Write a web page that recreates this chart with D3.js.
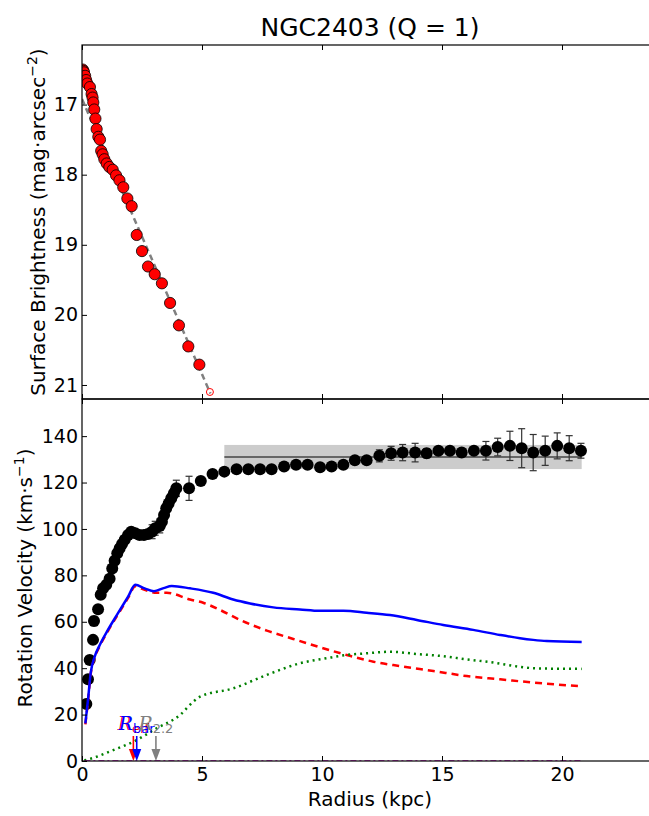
<!DOCTYPE html>
<meta charset="utf-8">
<script src="https://d3js.org/d3.v7.min.js"></script>
<style>
  body { margin: 0; background: #fff; }
  text { font-family: "DejaVu Sans", sans-serif; }
</style>
<div id="chart"></div>
<script>

// surface brightness profile
const sbRadius = [0.03, 0.06, 0.08, 0.13, 0.17, 0.22, 0.33, 0.40, 0.44, 0.47, 0.51, 0.56, 0.61, 0.68, 0.75, 0.80, 0.86, 0.93, 1.03, 1.14, 1.28, 1.42, 1.56, 1.72, 1.89, 2.07, 2.28, 2.50, 2.75, 3.03, 3.33, 3.67, 4.04, 4.43, 4.89];
const sbMag = [16.50, 16.52, 16.54, 16.59, 16.65, 16.70, 16.75, 16.85, 16.90, 16.97, 17.07, 17.20, 17.35, 17.46, 17.50, 17.66, 17.71, 17.78, 17.84, 17.89, 17.93, 18.01, 18.08, 18.18, 18.34, 18.45, 18.86, 19.09, 19.31, 19.42, 19.55, 19.83, 20.15, 20.45, 20.71];
const sbExcludedR = [5.33];
const sbExcludedMag = [21.10];
const sbFitR = [0, 5.35];
const sbFitMag = [16.92, 21.12];

// rotation curve
const vRadius = [0.18, 0.25, 0.32, 0.46, 0.50, 0.67, 0.78, 0.88, 1.01, 1.15, 1.26, 1.36, 1.47, 1.57, 1.67, 1.78, 1.92, 2.05, 2.22, 2.40, 2.58, 2.75, 2.92, 3.05, 3.24, 3.33, 3.42, 3.51, 3.61, 3.72, 3.83, 3.93, 4.46, 4.95, 5.44, 5.93, 6.44, 6.93, 7.42, 7.90, 8.42, 8.92, 9.40, 9.92, 10.40, 10.89, 11.37, 11.86, 12.39, 12.88, 13.36, 13.88, 14.36, 14.85, 15.33, 15.82, 16.33, 16.83, 17.32, 17.83, 18.32, 18.80, 19.30, 19.80, 20.30, 20.79];
const vObs = [24.6, 35.2, 43.5, 52.2, 60.3, 65.4, 71.6, 74.4, 75.9, 78.5, 83.0, 86.3, 89.5, 91.7, 93.5, 95.3, 97.4, 98.8, 98.1, 97.4, 97.4, 97.8, 98.8, 100.3, 101.3, 103.1, 106.0, 108.9, 111.0, 113.2, 115.4, 117.5, 117.5, 120.7, 123.7, 124.7, 125.7, 125.7, 125.7, 125.7, 126.9, 127.7, 127.7, 126.6, 126.9, 127.7, 129.6, 129.6, 131.5, 132.6, 132.9, 132.9, 132.6, 133.7, 133.7, 132.9, 133.7, 133.7, 135.3, 135.8, 134.8, 132.9, 133.7, 135.8, 134.8, 133.7];
const vErr = [1, 1, 1, 1, 2, 1, 1, 1, 1, 1, 1, 1, 1, 1, 1, 1, 1, 1, 1, 1, 1, 1, 3, 3, 3, 2, 2, 2, 2, 2, 2, 3.5, 5.2, 1, 1, 1, 1, 1, 1, 1, 1, 1, 1, 1.5, 1, 1, 1, 1, 2.6, 3, 3.5, 4, 2, 1, 1, 1, 1, 4, 3.8, 6.3, 8.4, 7.8, 6.3, 5.6, 5.4, 3.2];

const vFlat = 131;
const vFlatErr = 5.2;
const flatRange = [5.93, 20.82];

// model components
const totR = [0.14, 0.25, 0.36, 0.53, 0.74, 1.08, 1.5, 1.92, 2.22, 2.61, 3.0, 3.4, 3.74, 4.5, 5.47, 6.3, 7.0, 7.97, 9.08, 9.92, 10.89, 11.86, 12.83, 13.95, 15.05, 16.3, 17.42, 18.25, 18.8, 19.36, 20.82];
const vTotal = [16.2, 26.3, 37.8, 45, 50, 56.5, 63.7, 70.8, 75.9, 74.4, 73.2, 74.5, 75.4, 74.4, 72.5, 69.6, 67.9, 66.2, 65.3, 64.7, 64.7, 63.9, 62.9, 60.8, 58.6, 56.5, 54.3, 52.9, 52.2, 51.7, 51.3];
const diskR = [0.14, 0.25, 0.36, 0.53, 0.74, 1.08, 1.5, 1.92, 2.22, 2.35, 3.11, 3.53, 4.5, 5.05, 5.75, 6.58, 7.7, 8.8, 9.92, 11.03, 12.14, 13.25, 14.64, 16.03, 17.42, 18.8, 20.82];
const vDisk = [15.8, 25.8, 37.3, 44.5, 49.5, 56, 63.2, 70.3, 75.3, 74.8, 72.5, 72.5, 69.6, 68.2, 65.1, 60.8, 56.2, 52.6, 49, 45.7, 42.8, 40.9, 38.8, 36.6, 35.2, 33.8, 32.2];
const gasR = [0.1, 0.26, 1.3, 2.14, 3.11, 4.08, 4.64, 4.92, 6.3, 7.7, 9.08, 10.2, 11.03, 11.86, 12.83, 13.95, 14.92, 16.03, 17.14, 18.25, 18.95, 20.82];
const vGas = [0.3, 0.7, 4.7, 8.3, 14.1, 19.8, 25.6, 27.7, 31.3, 37.1, 42.1, 44.3, 45.7, 46.4, 47.1, 46.1, 45.3, 43.8, 42.4, 40.6, 39.9, 39.7];
const bulgeR = [0.1, 20.82];
const vBulge = [0, 0];

// characteristic radii
const markR = [2.14, 2.28, 3.08];
const markSub = ["eff", "bar", "2.2"];
const markColor = ["#ff0000", "#0000ff", "#808080"];

const xTicks = [0, 5, 10, 15, 20];
const sbTicks = [17, 18, 19, 20, 21];
const vTicks = [0, 20, 40, 60, 80, 100, 120, 140];

const W = 649, H = 816;
const left = 82, right = 658;
const topA = 45, midA = 399, botA = 761;

const svg = d3.select("#chart").append("svg")
  .attr("width", W).attr("height", H);

const x = d3.scaleLinear().domain([0, 24]).range([left, right]);
const ySB = d3.scaleLinear().domain([16.15, 21.2]).range([topA, midA]);
const yV = d3.scaleLinear().domain([0, 156]).range([botA, midA]);

// clip paths
const defs = svg.append("defs");
defs.append("clipPath").attr("id", "clipTop").append("rect")
  .attr("x", left).attr("y", topA).attr("width", right - left).attr("height", midA - topA);
defs.append("clipPath").attr("id", "clipBot").append("rect")
  .attr("x", left).attr("y", midA).attr("width", right - left).attr("height", botA - midA);

// title
svg.append("text")
  .attr("x", (left + right) / 2).attr("y", 36)
  .attr("text-anchor", "middle")
  .style("font-size", "25px")
  .text("NGC2403 (Q = 1)");

// ---------- top panel ----------
const gTop = svg.append("g").attr("clip-path", "url(#clipTop)");

gTop.append("path")
  .datum(sbFitR.map((r, i) => [r, sbFitMag[i]]))
  .attr("d", d3.line().x(d => x(d[0])).y(d => ySB(d[1])))
  .attr("fill", "none")
  .attr("stroke", "#808080")
  .attr("stroke-width", 2.5)
  .attr("stroke-dasharray", "6,4");

gTop.selectAll(".sb")
  .data(sbRadius.map((r, i) => [r, sbMag[i]]))
  .join("circle")
    .attr("cx", d => x(d[0]))
    .attr("cy", d => ySB(d[1]))
    .attr("r", 5.6)
    .attr("fill", "#ff0000")
    .attr("stroke", "#000")
    .attr("stroke-width", 0.8);

gTop.selectAll(".sbx")
  .data(sbExcludedR.map((r, i) => [r, sbExcludedMag[i]]))
  .join("circle")
    .attr("cx", d => x(d[0]))
    .attr("cy", d => ySB(d[1]))
    .attr("r", 3.5)
    .attr("fill", "none")
    .attr("stroke", "#ff0000")
    .attr("stroke-width", 1);

// ---------- bottom panel ----------
const gBot = svg.append("g").attr("clip-path", "url(#clipBot)");

gBot.append("rect")
  .attr("x", x(flatRange[0])).attr("y", yV(vFlat + vFlatErr))
  .attr("width", x(flatRange[1]) - x(flatRange[0]))
  .attr("height", yV(vFlat - vFlatErr) - yV(vFlat + vFlatErr))
  .attr("fill", "#cccccc");

gBot.append("line")
  .attr("x1", x(flatRange[0])).attr("x2", x(flatRange[1]))
  .attr("y1", yV(vFlat)).attr("y2", yV(vFlat))
  .attr("stroke", "#000").attr("stroke-width", 1.2);

const obs = vRadius.map((r, i) => ({r: r, v: vObs[i], e: vErr[i]}));

const eb = gBot.append("g").attr("stroke", "#333").attr("stroke-width", 1.2);
eb.selectAll(".bar").data(obs).join("line")
  .attr("x1", d => x(d.r)).attr("x2", d => x(d.r))
  .attr("y1", d => yV(d.v - d.e)).attr("y2", d => yV(d.v + d.e));
eb.selectAll(".capHi").data(obs).join("line")
  .attr("x1", d => x(d.r) - 3.5).attr("x2", d => x(d.r) + 3.5)
  .attr("y1", d => yV(d.v + d.e)).attr("y2", d => yV(d.v + d.e));
eb.selectAll(".capLo").data(obs).join("line")
  .attr("x1", d => x(d.r) - 3.5).attr("x2", d => x(d.r) + 3.5)
  .attr("y1", d => yV(d.v - d.e)).attr("y2", d => yV(d.v - d.e));

gBot.selectAll(".vobs").data(obs).join("circle")
  .attr("cx", d => x(d.r)).attr("cy", d => yV(d.v))
  .attr("r", 6)
  .attr("fill", "#000");

const vline = d3.line().x(d => x(d[0])).y(d => yV(d[1])).curve(d3.curveMonotoneX);

function curve(rs, vs, color, dash, width) {
  gBot.append("path")
    .datum(rs.map((r, i) => [r, vs[i]]))
    .attr("d", vline)
    .attr("fill", "none")
    .attr("stroke", color)
    .attr("stroke-width", width)
    .attr("stroke-dasharray", dash);
}
curve(diskR, vDisk, "#ff0000", "7,5", 2.5);
curve(gasR, vGas, "#008000", "2,4", 2.5);
curve(totR, vTotal, "#0000ff", null, 2.5);
curve(bulgeR, vBulge, "#bf00bf", "6,3,2,3", 1.5);

// arrows for characteristic radii
markR.forEach((r, i) => {
  const cx = x(r);
  svg.append("line")
    .attr("x1", cx).attr("x2", cx)
    .attr("y1", botA - 25).attr("y2", botA - 11)
    .attr("stroke", markColor[i]).attr("stroke-width", 1.6);
  svg.append("path")
    .attr("d", `M${cx - 4.5},${botA - 12}L${cx + 4.5},${botA - 12}L${cx},${botA}Z`)
    .attr("fill", markColor[i]);
  const t = svg.append("text")
    .attr("x", cx).attr("y", botA - 31)
    .attr("text-anchor", "middle")
    .attr("fill", markColor[i]);
  t.append("tspan")
    .style("font-family", "'DejaVu Serif', serif")
    .style("font-style", "italic")
    .style("font-size", "19px")
    .text("R");
  t.append("tspan")
    .attr("dy", 3)
    .style("font-size", "13px")
    .text(markSub[i]);
});

// ---------- axes ----------
function frame(y0, y1) {
  svg.append("rect")
    .attr("x", left).attr("y", y0)
    .attr("width", right - left).attr("height", y1 - y0)
    .attr("fill", "none").attr("stroke", "#000").attr("stroke-width", 1.2);
}
frame(topA, midA);
frame(midA, botA);

function styleAxis(g) {
  g.select(".domain").remove();
  g.selectAll(".tick line").attr("stroke", "#000");
  g.selectAll(".tick text").style("font-size", "19px").attr("fill", "#000");
}

// top panel axes
svg.append("g").attr("transform", `translate(${left},0)`)
  .call(d3.axisLeft(ySB).tickValues(sbTicks).tickSize(-5).tickPadding(4).tickFormat(d3.format("d")))
  .call(styleAxis);
svg.append("g").attr("transform", `translate(${right},0)`)
  .call(d3.axisRight(ySB).tickValues(sbTicks).tickSize(-5).tickFormat(""))
  .call(styleAxis);
svg.append("g").attr("transform", `translate(0,${topA})`)
  .call(d3.axisTop(x).tickValues(xTicks).tickSize(-5).tickFormat(""))
  .call(styleAxis);
svg.append("g").attr("transform", `translate(0,${midA})`)
  .call(d3.axisBottom(x).tickValues(xTicks).tickSize(-5).tickFormat(""))
  .call(styleAxis);

// bottom panel axes
svg.append("g").attr("transform", `translate(${left},0)`)
  .call(d3.axisLeft(yV).tickValues(vTicks).tickSize(-5).tickPadding(4))
  .call(styleAxis);
svg.append("g").attr("transform", `translate(${right},0)`)
  .call(d3.axisRight(yV).tickValues(vTicks).tickSize(-5).tickFormat(""))
  .call(styleAxis);
svg.append("g").attr("transform", `translate(0,${midA})`)
  .call(d3.axisTop(x).tickValues(xTicks).tickSize(-5).tickFormat(""))
  .call(styleAxis);
svg.append("g").attr("transform", `translate(0,${botA})`)
  .call(d3.axisBottom(x).tickValues(xTicks).tickSize(-5).tickPadding(7))
  .call(styleAxis);

// axis labels
svg.append("text")
  .attr("x", (left + right) / 2).attr("y", 806)
  .attr("text-anchor", "middle")
  .style("font-size", "20px")
  .text("Radius (kpc)");

function ylabel(main, unit, sup, cx, cy) {
  const t = svg.append("text")
    .attr("transform", `translate(${cx},${cy}) rotate(-90)`)
    .attr("text-anchor", "middle")
    .style("font-size", "20px");
  t.append("tspan").text(main + unit);
  t.append("tspan").attr("dy", -8).style("font-size", "14px").text(sup);
  t.append("tspan").attr("dy", 8).text(")");
}
ylabel("Surface Brightness ", "(mag·arcsec", "\u22122", 45, 222);
ylabel("Rotation Velocity ", "(km·s", "\u22121", 32, 578);

</script>
